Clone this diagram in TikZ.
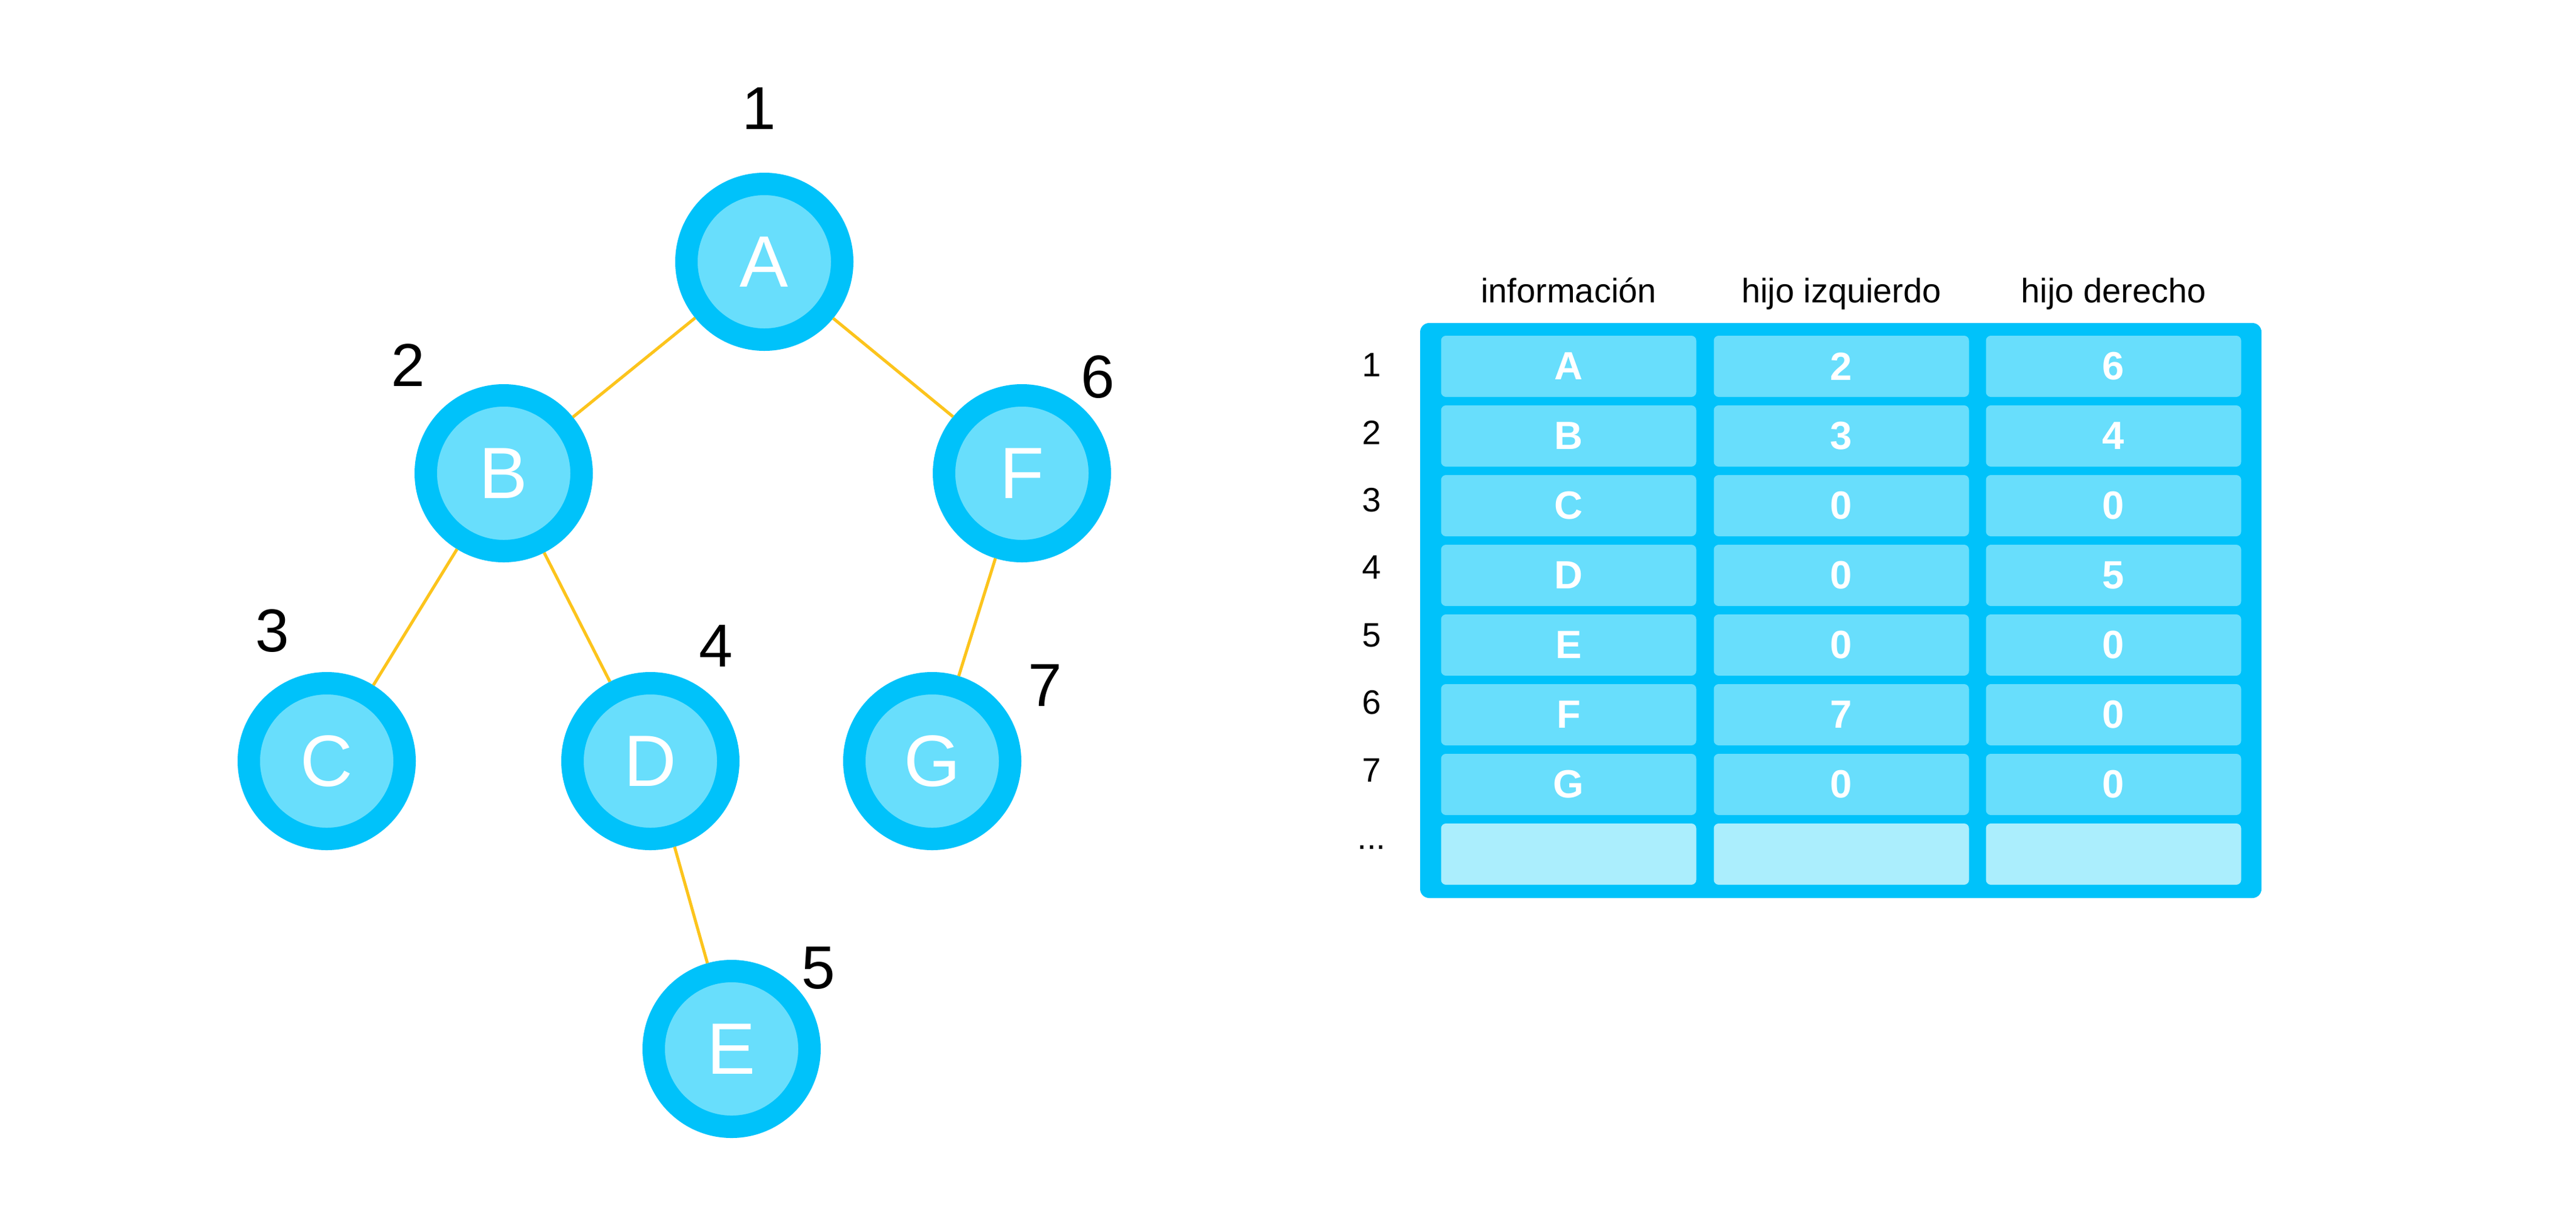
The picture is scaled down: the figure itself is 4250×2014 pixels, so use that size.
\documentclass[tikz,border=0pt]{standalone}
\usepackage{fontspec}
\setmainfont{Liberation Sans}
\definecolor{ring}{RGB}{0,194,250}
\definecolor{core}{RGB}{104,222,252}
\definecolor{pale}{RGB}{171,238,253}
\definecolor{branch}{RGB}{252,196,28}
\tikzset{
    vertex/.style={circle, draw=ring, fill=core, line width=7.4pt, minimum size=51.4pt, inner sep=0pt, text=white, font=\fontsize{24}{24}\selectfont},
    rank/.style={font=\fontsize{20}{20}\selectfont},
    edge/.style={draw=branch, line width=1pt},
    cell/.style={rectangle, fill=core, rounded corners=1.6pt, minimum width=84.2pt, minimum height=20.2pt, inner sep=0pt, text=white, font=\bfseries\fontsize{13}{13}\selectfont},
    index/.style={font=\fontsize{11.2}{11.2}\selectfont},
    heading/.style={anchor=base, font=\fontsize{11.2}{11.2}\selectfont}
}

\begin{document}
\begin{tikzpicture}[x=0.2pt, y=-0.2pt]
    \useasboundingbox (0,0) rectangle (4250,2014);
    % tree
    \node[vertex] at (1261, 432) (A) {A};
    \node[vertex] at (831, 781) (B) {B};
    \node[vertex] at (1686, 781) (F) {F};
    \node[vertex] at (539, 1256) (C) {C};
    \node[vertex] at (1073, 1256) (D) {D};
    \node[vertex] at (1538, 1256) (G) {G};
    \node[vertex] at (1207, 1731) (E) {E};
    \draw [edge] (A) -- (B);
    \draw [edge] (A) -- (F);
    \draw [edge] (B) -- (C);
    \draw [edge] (B) -- (D);
    \draw [edge] (D) -- (E);
    \draw [edge] (F) -- (G);
    \node[rank] at (1252, 179) (n1) {1};
    \node[rank] at (673, 603) (n2) {2};
    \node[rank] at (449, 1041) (n3) {3};
    \node[rank] at (1181, 1066) (n4) {4};
    \node[rank] at (1350, 1598) (n5) {5};
    \node[rank] at (1811, 622) (n6) {6};
    \node[rank] at (1724, 1131) (n7) {7};
    % table
    \node[heading] at (2588, 499) (hinfo) {información};
    \node[heading] at (3038, 499) (hleft) {hijo izquierdo};
    \node[heading] at (3487, 499) (hright) {hijo derecho};
    \fill[ring, rounded corners=3pt] (2343, 533) rectangle (3731, 1482);
    \foreach \i/\n/\l/\r in {1/A/2/6, 2/B/3/4, 3/C/0/0, 4/D/0/5, 5/E/0/0, 6/F/7/0, 7/G/0/0} {
        \node[index] at (2263, {602+111.5*(\i-1)}) (row\i) {\i};
        \node[cell] at (2588, {604.5+115*(\i-1)}) (info\i) {\n};
        \node[cell] at (3038, {604.5+115*(\i-1)}) (left\i) {\l};
        \node[cell] at (3487, {604.5+115*(\i-1)}) (right\i) {\r};
    }
    \node[index, anchor=base] at (2263, 1401) (row8) {...};
    \node[cell, fill=pale] at (2588, 1409.5) (info8) {};
    \node[cell, fill=pale] at (3038, 1409.5) (left8) {};
    \node[cell, fill=pale] at (3487, 1409.5) (right8) {};
\end{tikzpicture}
\end{document}
